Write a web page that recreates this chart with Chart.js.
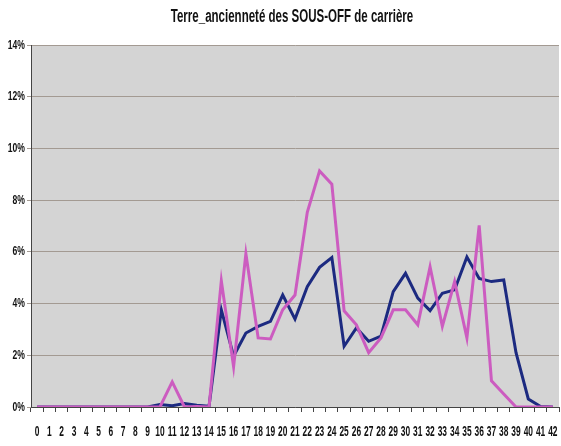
<!DOCTYPE html>
<html>
<head>
<meta charset="utf-8">
<script src="https://cdn.jsdelivr.net/npm/chart.js@4.4.0/dist/chart.umd.min.js"></script>
<style>
  html, body { margin: 0; padding: 0; background: #fff; }
  #wrap { width: 561px; height: 446px; }
</style>
</head>
<body>
<div id="wrap"><canvas id="lineChart" width="561" height="446"></canvas></div>
<script>
// anciennete (annees de service)
var years = [];
for (var i = 0; i <= 42; i++) years.push(String(i));

// % des sous-officiers, serie bleue
var serieBleue = [0, 0, 0, 0, 0, 0, 0, 0, 0, 0,
  0.1, 0.05, 0.13, 0.07, 0.03, 3.76, 1.97, 2.86, 3.12, 3.31,
  4.33, 3.40, 4.65, 5.40, 5.78, 2.35, 3.06, 2.54, 2.74, 4.46,
  5.17, 4.21, 3.73, 4.40, 4.53, 5.80, 4.97, 4.85, 4.91, 2.10,
  0.31, 0.02, 0];

// % des sous-officiers, serie rose
var serieRose = [0, 0, 0, 0, 0, 0, 0, 0, 0, 0,
  0, 0.97, 0, 0.02, 0, 4.88, 1.56, 5.93, 2.67, 2.63,
  3.76, 4.33, 7.53, 9.13, 8.62, 3.72, 3.18, 2.10, 2.67, 3.76,
  3.76, 3.18, 5.42, 3.12, 4.85, 2.67, 7.02, 1.01, 0.5, 0,
  0, 0, 0];

var yTicks = [0, 2, 4, 6, 8, 10, 12, 14];

var chartTitle = 'Terre_ancienneté des SOUS-OFF de carrière';
var xFont = "bold 14px 'Liberation Sans', Arial, sans-serif";
var yFont = "bold 13px 'Liberation Sans', Arial, sans-serif";
var titleFont = "bold 18px 'Liberation Sans', Arial, sans-serif";

// texte "narrow" : on compresse horizontalement
function narrowText(ctx, txt, x, y, sx, align) {
  ctx.save();
  ctx.translate(x, y);
  ctx.scale(sx, 1);
  ctx.textAlign = align;
  ctx.fillText(txt, 0, 0);
  ctx.restore();
}

// fond gris de la zone de tracé + textes
var plotBg = {
  id: 'plotBg',
  beforeDraw: function (chart) {
    var ctx = chart.ctx, a = chart.chartArea;
    ctx.save();
    ctx.fillStyle = '#d4d4d4';
    ctx.fillRect(a.left, a.top, a.right - a.left, a.bottom - a.top);
    ctx.restore();
  },
  afterDraw: function (chart) {
    var ctx = chart.ctx, a = chart.chartArea;
    var xs = chart.scales.x, ys = chart.scales.y;
    ctx.save();
    ctx.fillStyle = '#111';
    ctx.textBaseline = 'middle';
    // titre
    ctx.font = titleFont;
    narrowText(ctx, chartTitle, 292, 17, 0.64, 'center');
    // etiquettes x
    ctx.font = xFont;
    years.forEach(function (lab, idx) {
      narrowText(ctx, lab, xs.getPixelForValue(idx), a.bottom + 25, 0.6, 'center');
    });
    // etiquettes y
    ctx.font = yFont;
    yTicks.forEach(function (v) {
      narrowText(ctx, v + '%', a.left - 6, ys.getPixelForValue(v), 0.66, 'right');
    });
    ctx.restore();
  }
};

var ctx = document.getElementById('lineChart').getContext('2d');
new Chart(ctx, {
  type: 'line',
  data: {
    labels: years,
    datasets: [
      {
        label: 'Rose',
        data: serieRose,
        borderColor: '#cc5cc0',
        borderWidth: 3,
        pointRadius: 0,
        tension: 0,
        fill: false
      },
      {
        label: 'Bleu',
        data: serieBleue,
        borderColor: '#1c2a80',
        borderWidth: 3,
        pointRadius: 0,
        tension: 0,
        fill: false
      }
    ]
  },
  options: {
    responsive: false,
    animation: false,
    layout: { padding: { left: 0, right: 2, top: 45, bottom: 0 } },
    plugins: {
      legend: { display: false },
      tooltip: { enabled: false },
      title: { display: false }
    },
    scales: {
      x: {
        offset: true,
        grid: {
          drawOnChartArea: false,
          drawTicks: true,
          tickLength: 5,
          color: '#444',
          offset: true
        },
        border: { color: '#444', width: 1 },
        ticks: { display: false, autoSkip: false },
        afterFit: function (scale) { scale.height = 39; }
      },
      y: {
        min: 0,
        max: 14,
        afterBuildTicks: function (scale) {
          scale.ticks = yTicks.map(function (v) { return { value: v }; });
        },
        grid: {
          color: '#a39a92',
          lineWidth: 1,
          drawTicks: true,
          tickLength: 4
        },
        border: { color: '#444', width: 1 },
        ticks: { display: false },
        afterFit: function (scale) { scale.width = 31; }
      }
    }
  },
  plugins: [plotBg]
});
</script>
</body>
</html>
